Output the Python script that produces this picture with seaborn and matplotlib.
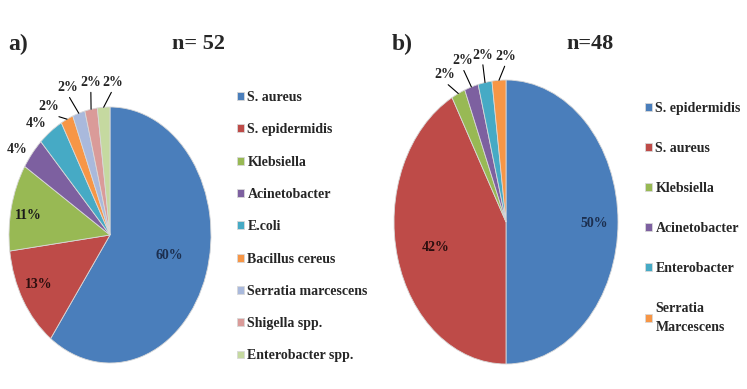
import numpy as np
import matplotlib
matplotlib.use("Agg")
import matplotlib.pyplot as plt
import seaborn as sns

# panel a) n = 52
a_names = ["S. aureus", "S. epidermidis", "Klebsiella", "Acinetobacter", "E.coli",
           "Bacillus cereus", "Serratia marcescens", "Shigella spp.", "Enterobacter spp."]
a_pct = [60, 13, 11, 4, 4, 2, 2, 2, 2]
a_colors = ["#4A7EBB", "#BE4B48", "#98B954", "#7D60A0", "#46AAC5",
            "#F79646", "#A9B9DC", "#DA9B99", "#C5D9A0"]

# panel b) n = 48
b_names = ["S. epidermidis", "S. aureus", "Klebsiella", "Acinetobacter", "Enterobacter",
           "Serratia\nMarcescens"]
b_pct = [50, 42, 2, 2, 2, 2]
b_colors = ["#4A7EBB", "#BE4B48", "#98B954", "#7D60A0", "#46AAC5", "#F79646"]

sns.set_style("white")
plt.rcParams["font.family"] = ["Liberation Serif", "DejaVu Serif"]
plt.rcParams["font.weight"] = "bold"

W, H = 747, 389
fig = plt.figure(figsize=(W / 100, H / 100), dpi=100)


def make_axes(cx, cy, rx, ry, k=1.1):
    # axes placed so that the unit pie lands at pixel centre (cx, cy) with radii rx, ry
    left = (cx - k * rx) / W
    bottom = (H - cy - k * ry) / H
    ax = fig.add_axes([left, bottom, 2 * k * rx / W, 2 * k * ry / H])
    return ax


def draw_pie(ax, pct, colors, inner, outer):
    wedges, _ = ax.pie(pct, colors=colors, startangle=90, counterclock=False,
                       wedgeprops=dict(edgecolor="#d8d8d8", linewidth=0.6))
    ax.set_aspect("auto")
    ax.set_xlim(-1.1, 1.1)
    ax.set_ylim(-1.1, 1.1)
    ax.axis("off")
    for i, (x, y, col) in inner.items():
        ax.text(x, y, f"{pct[i]}%", ha="center", va="center", fontsize=10,
                fontweight="bold", color=col)
    for i, (x, y, line) in outer.items():
        w = wedges[i]
        t = np.deg2rad((w.theta1 + w.theta2) / 2)
        if line:
            ax.annotate(f"{pct[i]}%", xy=(np.cos(t), np.sin(t)), xytext=(x, y),
                        ha="center", va="bottom", fontsize=10, fontweight="bold",
                        arrowprops=dict(arrowstyle="-", color="black", lw=0.8,
                                        relpos=(0.5, 0), shrinkA=0, shrinkB=0))
        else:
            ax.text(x, y, f"{pct[i]}%", ha="center", va="center", fontsize=10,
                    fontweight="bold")
    return wedges


ax_a = make_axes(110, 235, 101, 128)
wa = draw_pie(ax_a, a_pct, a_colors,
              inner={0: (0.59, -0.16, "#1C2F4F"), 1: (-0.71, -0.39, "#2B0E0E"),
                     2: (-0.81, 0.15, "#1a1a1a")},
              outer={3: (-0.92, 0.67, False), 4: (-0.73, 0.87, False),
                     5: (-0.61, 0.95, True), 6: (-0.42, 1.1, True),
                     7: (-0.19, 1.14, True), 8: (0.03, 1.14, True)})

ax_b = make_axes(506, 222, 112, 142)
wb = draw_pie(ax_b, b_pct, b_colors,
              inner={0: (0.79, -0.01, "#1C2F4F"), 1: (-0.63, -0.18, "#2B0E0E")},
              outer={2: (-0.55, 0.99, True), 3: (-0.39, 1.09, True),
                     4: (-0.21, 1.13, True), 5: (0.0, 1.12, True)})

fig.text(8 / W, 1 - 44 / H, "a)", fontsize=17, fontweight="bold", va="center")
fig.text(199 / W, 1 - 44 / H, "n= 52", fontsize=16, fontweight="bold", va="center", ha="center")
fig.text(392 / W, 1 - 44 / H, "b)", fontsize=17, fontweight="bold", va="center")
fig.text(590 / W, 1 - 44 / H, "n=48", fontsize=16, fontweight="bold", va="center", ha="center")

fig.legend(wa, a_names, loc="upper left", bbox_to_anchor=(237 / W, 1 - 91 / H),
           frameon=False, fontsize=10, labelspacing=1.39, handlelength=0.5,
           handleheight=0.5, handletextpad=0.25, borderpad=0, borderaxespad=0)
leg_b = fig.legend(wb, b_names, loc="upper left", bbox_to_anchor=(645 / W, 1 - 102 / H),
                   frameon=False, fontsize=10, labelspacing=1.94, handlelength=0.5,
                   handleheight=0.5, handletextpad=0.25, borderpad=0, borderaxespad=0)
for t in leg_b.get_texts():
    t.set_linespacing(1.6)

fig.savefig("out.png", dpi=100)
